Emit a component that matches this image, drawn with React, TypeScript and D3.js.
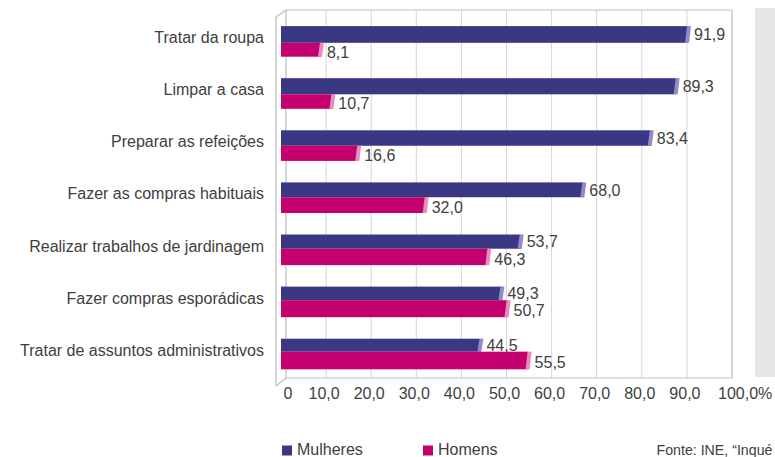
import React from "react";
import * as d3 from "d3";

const categories = [
  "Tratar da roupa",
  "Limpar a casa",
  "Preparar as refeições",
  "Fazer as compras habituais",
  "Realizar trabalhos de jardinagem",
  "Fazer compras esporádicas",
  "Tratar de assuntos administrativos",
];
const mulheres = [91.9, 89.3, 83.4, 68.0, 53.7, 49.3, 44.5];
const homens = [8.1, 10.7, 16.6, 32.0, 46.3, 50.7, 55.5];
const tickValues = [0, 10, 20, 30, 40, 50, 60, 70, 80, 90, 100];
const tickLabels = ["0", "10,0", "20,0", "30,0", "40,0", "50,0", "60,0", "70,0", "80,0", "90,0", "100,0%"];
const seriesNames = ["Mulheres", "Homens"];
const sourceText = "Fonte: INE, “Inqué";

const W = 775;
const H = 457;
const FONT = "'Liberation Sans', Arial, Helvetica, sans-serif";
const TEXT = "#404040";
const C_M = "#3b3883";
const C_M_CAP = "#8f8cc8";
const C_H = "#c4006e";
const C_H_CAP = "#e98cbd";
const FRAME = "#bdbdbd";
const GRID = "#d6d6d6";

export default function App() {
  const x = d3.scaleLinear().domain([0, 100]).range([285.5, 723.5]);
  const xb = d3.scaleLinear().domain([0, 100]).range([281, 732]);
  const y = d3.scalePoint<string>().domain(categories).range([41.4, 354]);
  const fmt = (v: number) => d3.format(".1f")(v).replace(".", ",");

  const wallTop = 10;
  const floorY = 378;
  const backLeft = 286;
  const frontLeft = 276;
  const barStart = 281;
  const half = 15.3;

  const cap = (xe: number, top: number, bot: number) =>
    `${xe - 1},${top} ${xe + 3},${top} ${xe + 1},${bot} ${xe - 3},${bot}`;

  return (
    <svg
      width={W}
      height={H}
      style={{ position: "absolute", left: 0, top: 0, background: "#fff" }}
      fontFamily={FONT}
    >
      {/* right grey panel */}
      <rect x={755} y={8} width={20} height={369} fill="#e6e6e7" />

      {/* gridlines on back wall */}
      {tickValues
        .filter((v) => v > 0 && v < 100)
        .map((v) => (
          <line key={v} x1={xb(v)} x2={xb(v)} y1={wallTop} y2={floorY} stroke={GRID} strokeWidth={1} />
        ))}
      {/* frame */}
      <g stroke={FRAME} strokeWidth={1.2} fill="none">
        <line x1={backLeft} x2={xb(100)} y1={wallTop} y2={wallTop} />
        <line x1={xb(100)} x2={xb(100)} y1={wallTop} y2={floorY} />
        <line x1={backLeft} x2={xb(100)} y1={floorY} y2={floorY} />
        <line x1={backLeft} x2={backLeft} y1={wallTop} y2={floorY} />
        <line x1={frontLeft} x2={frontLeft} y1={wallTop + 7} y2={floorY + 8} />
        <line x1={frontLeft} x2={backLeft} y1={wallTop + 7} y2={wallTop} />
        <line x1={frontLeft} x2={backLeft} y1={floorY + 8} y2={floorY} />
      </g>

      {/* bars */}
      {categories.map((c, i) => {
        const cy = y(c) as number;
        const top = cy - half;
        const div = cy + 1.4 - 0.62 * i;
        const bot = cy + half;
        const xm = x(mulheres[i]);
        const xh = x(homens[i]);
        return (
          <g key={c}>
            <rect x={barStart} y={top} width={xm - barStart} height={div - top} fill={C_M} />
            <polygon points={cap(xm, top, div)} fill={C_M_CAP} />
            <rect x={barStart} y={div} width={xh - barStart} height={bot - div} fill={C_H} />
            <polygon points={cap(xh, div, bot)} fill={C_H_CAP} />
            <text x={xm + 6} y={(top + div) / 2} dy="0.36em" fontSize={16} fill={TEXT}>
              {fmt(mulheres[i])}
            </text>
            <text x={xh + 6} y={(div + bot) / 2 + 2} dy="0.36em" fontSize={16} fill={TEXT}>
              {fmt(homens[i])}
            </text>
            <text x={264} y={cy - 4} dy="0.36em" fontSize={16} textAnchor="end" fill={TEXT}>
              {c}
            </text>
          </g>
        );
      })}

      {/* x tick labels */}
      {tickValues.map((v, i) => {
        const last = i === tickValues.length - 1;
        const first = i === 0;
        const tx = first ? xb(v) + 2.5 : last ? xb(v) - 14 : xb(v) - 2;
        return (
          <text
            key={v}
            x={tx}
            y={399}
            fontSize={16}
            fill={TEXT}
            textAnchor={first || last ? "start" : "middle"}
          >
            {tickLabels[i]}
          </text>
        );
      })}

      {/* legend */}
      {seriesNames.map((s, i) => {
        const lx = i === 0 ? 282 : 423;
        return (
          <g key={s}>
            <rect x={lx} y={445.5} width={10} height={10} fill={i === 0 ? C_M : C_H} />
            <text x={lx + 15} y={455} fontSize={16} fill={TEXT}>
              {s}
            </text>
          </g>
        );
      })}

      {/* source */}
      <text x={656.5} y={455} fontSize={14.2} fill={TEXT}>
        {sourceText}
      </text>
    </svg>
  );
}
